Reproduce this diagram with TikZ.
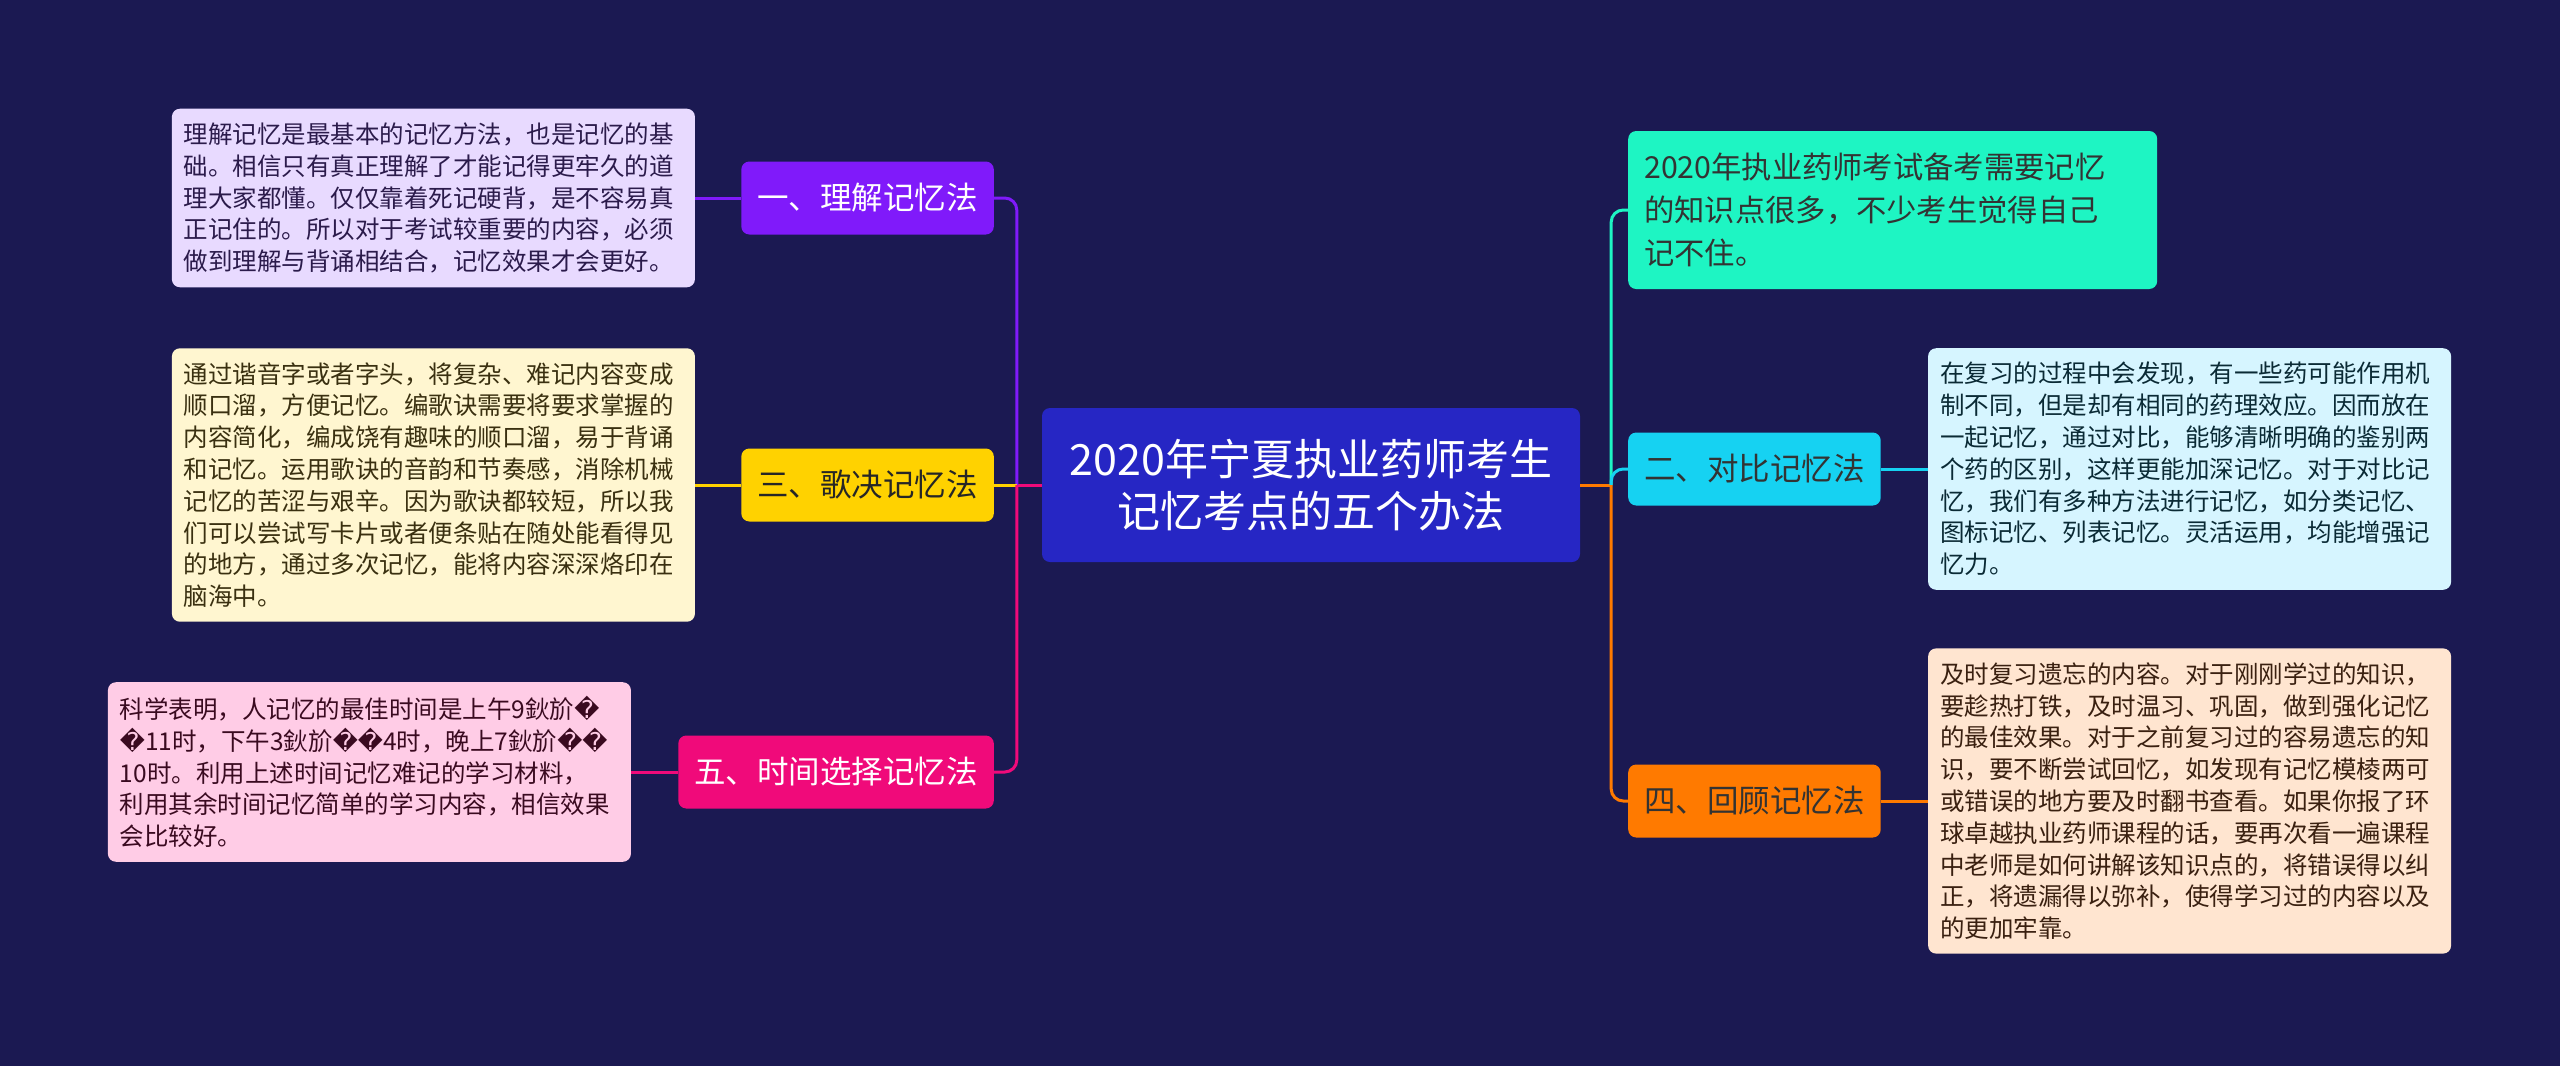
\documentclass[tikz,border=0pt]{standalone}
\usepackage{fontspec}
\setmainfont{Noto Sans CJK SC}
\newfontfamily\replfont{DejaVu Sans}
\usetikzlibrary{positioning}
\definecolor{bgnavy}{RGB}{27,25,82}
\definecolor{rootblue}{RGB}{38,38,196}
\definecolor{clpurple}{RGB}{128,26,250}
\definecolor{clyellow}{RGB}{255,210,0}
\definecolor{clpink}{RGB}{240,10,122}
\definecolor{clgreen}{RGB}{30,245,195}
\definecolor{clcyan}{RGB}{22,210,242}
\definecolor{clorange}{RGB}{255,122,0}
\newcommand\badch{{\replfont\symbol{"FFFD}}}

\begin{document}
\begin{tikzpicture}[x=1pt,y=-1pt,
      node distance=46pt,
      root/.style={rounded corners=8pt,fill=rootblue,text=white,align=center,minimum width=538pt,minimum height=154pt,font=\fontsize{43}{52}\selectfont},
      branch/.style={rounded corners=8pt,inner xsep=16pt,minimum height=73pt,font=\fontsize{31.5}{38}\selectfont},
      leaf/.style={rounded corners=8pt,align=left,text width=499pt,inner xsep=12pt,inner ysep=14pt,font=\fontsize{24.5}{31.8}\selectfont},
      link/.style={line width=3pt,rounded corners=12pt}]
    \fill[bgnavy] (0,0) rectangle (2560,1066);
    \node[root] (root) at (1311,485) {2020年宁夏执业药师考生\\记忆考点的五个办法};
    \node[branch,fill=clpurple,text=white,anchor=east] (b1) at (994,198) {一、理解记忆法};
    \node[branch,fill=clyellow,text=black!85,anchor=east] (b3) at (994,485) {三、歌决记忆法};
    \node[branch,fill=clpink,text=white,anchor=east] (b5) at (994,772) {五、时间选择记忆法};
    \node[rounded corners=8pt,fill=clgreen,text=black!80,align=left,text width=497pt,inner xsep=16pt,minimum height=158pt,anchor=west,font=\fontsize{30.3}{43}\selectfont] (r0) at (1628,210) {2020年执业药师考试备考需要记忆\\的知识点很多，不少考生觉得自己\\记不住。};
    \node[branch,fill=clcyan,text=black!80,anchor=west] (b2) at (1628,469) {二、对比记忆法};
    \node[branch,fill=clorange,text=black!80,anchor=west] (b4) at (1628,801) {四、回顾记忆法};
    \node[leaf,fill={rgb,255:red,232;green,218;blue,255},text={rgb,255:red,43;green,27;blue,75},left=of b1] (l1) {理解记忆是最基本的记忆方法，也是记忆的基\\础。相信只有真正理解了才能记得更牢久的道\\理大家都懂。仅仅靠着死记硬背，是不容易真\\正记住的。所以对于考试较重要的内容，必须\\做到理解与背诵相结合，记忆效果才会更好。};
    \node[leaf,fill={rgb,255:red,255;green,246;blue,208},text={rgb,255:red,58;green,48;blue,16},left=of b3] (l3) {通过谐音字或者字头，将复杂、难记内容变成\\顺口溜，方便记忆。编歌诀需要将要求掌握的\\内容简化，编成饶有趣味的顺口溜，易于背诵\\和记忆。运用歌诀的音韵和节奏感，消除机械\\记忆的苦涩与艰辛。因为歌诀都较短，所以我\\们可以尝试写卡片或者便条贴在随处能看得见\\的地方，通过多次记忆，能将内容深深烙印在\\脑海中。};
    \node[leaf,fill={rgb,255:red,255;green,204;blue,230},text={rgb,255:red,58;green,10;blue,32},left=47pt of b5] (l5) {科学表明，人记忆的最佳时间是上午9鈥斺\badch\\\badch{}11时，下午3鈥斺\badch\badch{}4时，晚上7鈥斺\badch\badch\\10时。利用上述时间记忆难记的学习材料，\\利用其余时间记忆简单的学习内容，相信效果\\会比较好。};
    \node[leaf,fill={rgb,255:red,214;green,245;blue,255},text={rgb,255:red,10;green,42;blue,53},right=47pt of b2] (l2) {在复习的过程中会发现，有一些药可能作用机\\制不同，但是却有相同的药理效应。因而放在\\一起记忆，通过对比，能够清晰明确的鉴别两\\个药的区别，这样更能加深记忆。对于对比记\\忆，我们有多种方法进行记忆，如分类记忆、\\图标记忆、列表记忆。灵活运用，均能增强记\\忆力。};
    \node[leaf,fill={rgb,255:red,255;green,229;blue,208},text={rgb,255:red,58;green,32;blue,16},right=47pt of b4] (l4) {及时复习遗忘的内容。对于刚刚学过的知识，\\要趁热打铁，及时温习、巩固，做到强化记忆\\的最佳效果。对于之前复习过的容易遗忘的知\\识，要不断尝试回忆，如发现有记忆模棱两可\\或错误的地方要及时翻书查看。如果你报了环\\球卓越执业药师课程的话，要再次看一遍课程\\中老师是如何讲解该知识点的，将错误得以纠\\正，将遗漏得以弥补，使得学习过的内容以及\\的更加牢靠。};
    \coordinate (lhub) at ([xshift=-25pt]root.west);
    \coordinate (rhub) at ([xshift=31pt]root.east);
    \draw[link,clpink] (root.west) -- (lhub);
    \draw[link,clpurple] (lhub) |- (b1.east);
    \draw[link,clyellow] (lhub) -- (b3.east);
    \draw[link,clpink] (lhub) |- (b5.east);
    \draw[link,clorange] (root.east) -- (rhub);
    \draw[link,clgreen] (rhub) |- (r0.west);
    \draw[link,clcyan] (rhub) |- (b2.west);
    \draw[link,clorange] (rhub) |- (b4.west);
    \draw[link,clpurple] (b1.west) -- (l1.east);
    \draw[link,clyellow] (b3.west) -- (l3.east);
    \draw[link,clpink] (b5.west) -- (l5.east);
    \draw[link,clcyan] (b2.east) -- (l2.west);
    \draw[link,clorange] (b4.east) -- (l4.west);
  \end{tikzpicture}
\end{document}
